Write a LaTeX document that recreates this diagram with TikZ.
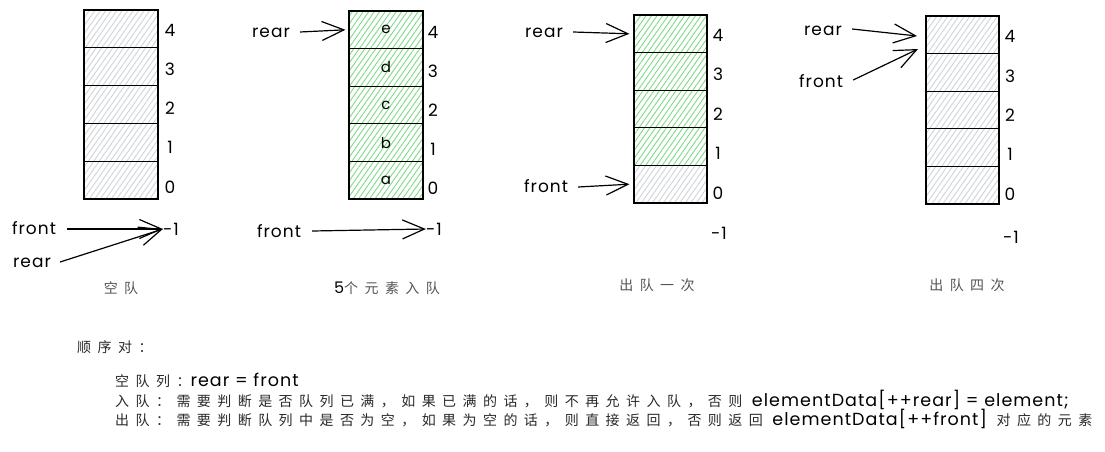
\documentclass[tikz,border=0pt]{standalone}
\usepackage{fontspec}
\setmainfont{Poppins}[LetterSpace=6]
\newfontfamily\cjk{Noto Sans CJK SC}[LetterSpace=46]
\usetikzlibrary{arrows.meta,patterns.meta}
\definecolor{hatchgray}{HTML}{CED4DA}
\definecolor{hatchgreen}{HTML}{7FD98A}
\definecolor{capgray}{HTML}{555555}
\definecolor{txtgray}{HTML}{2A2A2A}
\tikzset{
  cell/.style={draw=black, line width=1.2pt, minimum width=74pt, minimum height=37.8pt, inner sep=0pt,
    pattern={Lines[angle=55,distance=4.5pt,line width=0.9pt]}, pattern color=hatchgray,
    font=\fontsize{15}{15}\selectfont},
  gcell/.style={cell, pattern color=hatchgreen},
  idx/.style={font=\fontsize{17}{17}\selectfont, inner sep=0pt},
  ptr/.style={font=\fontsize{17}{17}\selectfont, inner sep=0pt},
  arr/.style={line width=1.2pt, -{Straight Barb[length=22pt,width=19pt,line width=1.2pt]}},
  captxt/.style={font=\fontsize{14}{14}\selectfont, text=capgray, inner sep=0pt},
  body/.style={anchor=base west, inner sep=0pt, font=\fontsize{17.5}{17.5}\selectfont},
}
\begin{document}
\begin{tikzpicture}[x=1pt,y=-1pt]
\useasboundingbox (0,0) rectangle (1105,452);
\fill[white] (0,0) rectangle (1105,452);

% ---- stack 1: empty queue
\foreach \i in {0,...,4} {
  \node[cell] (s1c\i) at (121,{180.1-37.8*\i}) {};
  \node[idx] (s1l\i) at (170,{187-39.2*\i}) {\i};
}
\node[idx] (s1m) at (171,229) {-1};
\node[ptr] (p1f) at (34,228) {front};
\node[ptr] (p1r) at (32,263) {rear};
\draw[arr] ([xshift=11pt,yshift=-1pt]p1f.east) -- (s1m.west);
\draw[arr] ([xshift=9pt,yshift=1pt]p1r.east) -- (s1m.west);
\node[captxt] (cap1) at (121,288) {\cjk 空队};

% ---- stack 2: five elements enqueued
\foreach \i/\t in {0/a,1/b,2/c,3/d,4/e} {
  \node[gcell, minimum height=37.6pt] (s2c\i) at (386,{180.2-37.6*\i}) {\t};
  \node[idx] (s2l\i) at (433,{188-39*\i}) {\i};
}
\node[idx] (s2m) at (434,229) {-1};
\node[ptr] (p2r) at (271,33) {rear};
\node[ptr] (p2f) at (279,231) {front};
\draw[arr] ([xshift=10pt,yshift=1pt]p2r.east) -- ([xshift=-3pt]s2c4.west);
\draw[arr] ([xshift=11pt]p2f.east) -- (s2m.west);
\node[captxt] (cap2) at (387,288) {\textcolor{black}{\fontsize{16}{16}\selectfont 5}\cjk 个元素入队};

% ---- stack 3: dequeued once
\node[cell, minimum width=73pt, minimum height=37.6pt] (s3c0) at (670.5,184.2) {};
\foreach \i in {1,...,4} {
  \node[gcell, minimum width=73pt, minimum height=37.6pt] (s3c\i) at (670.5,{184.2-37.6*\i}) {};
}
\foreach \i in {0,...,4} {
  \node[idx] (s3l\i) at (718,{193-39.5*\i}) {\i};
}
\node[idx] (s3m) at (719,233) {-1};
\node[ptr] (p3r) at (544,33) {rear};
\node[ptr] (p3f) at (546,186) {front};
\draw[arr] ([xshift=10pt,yshift=1pt]p3r.east) -- ([xshift=-4pt]s3c4.west);
\draw[arr] ([xshift=10pt,yshift=-1pt]p3f.east) -- ([xshift=-4pt]s3c0.west);
\node[captxt] (cap3) at (657,285) {\cjk 出队一次};

% ---- stack 4: dequeued four times
\foreach \i in {0,...,4} {
  \node[cell, minimum width=73pt, minimum height=37.6pt] (s4c\i) at (962.5,{185.2-37.6*\i}) {};
  \node[idx] (s4l\i) at (1010,{194-39.3*\i}) {\i};
}
\node[idx] (s4m) at (1011,237) {-1};
\node[ptr] (p4r) at (823,31) {rear};
\node[ptr] (p4f) at (821,81) {front};
\coordinate (t4r) at (917,36);
\coordinate (t4f) at (918,49);
\draw[arr] ([xshift=10pt,yshift=2pt]p4r.east) -- (t4r);
\draw[arr] ([xshift=10pt,yshift=1pt]p4f.east) -- (t4f);
\node[captxt] (cap4) at (967,285) {\cjk 出队四次};

% ---- explanation text
\node[body] (n1) at (77,352) {\textcolor{txtgray}{\cjk\fontsize{14}{14}\selectfont 顺序对：}};
\node[body] (n2) at (115,386) {\textcolor{txtgray}{\cjk\fontsize{14}{14}\selectfont 空队列：}rear = front};
\node[body] (n3) at (115,406) {\textcolor{txtgray}{\cjk\fontsize{14}{14}\selectfont 入队：需要判断是否队列已满，如果已满的话，则不再允许入队，否则 }elementData[++rear] = element;};
\node[body] (n4) at (115,425) {\textcolor{txtgray}{\cjk\fontsize{14}{14}\selectfont 出队：需要判断队列中是否为空，如果为空的话，则直接返回，否则返回 }elementData[++front]\textcolor{txtgray}{\cjk\fontsize{14}{14}\selectfont\ 对应的元素}};
\end{tikzpicture}
\end{document}
